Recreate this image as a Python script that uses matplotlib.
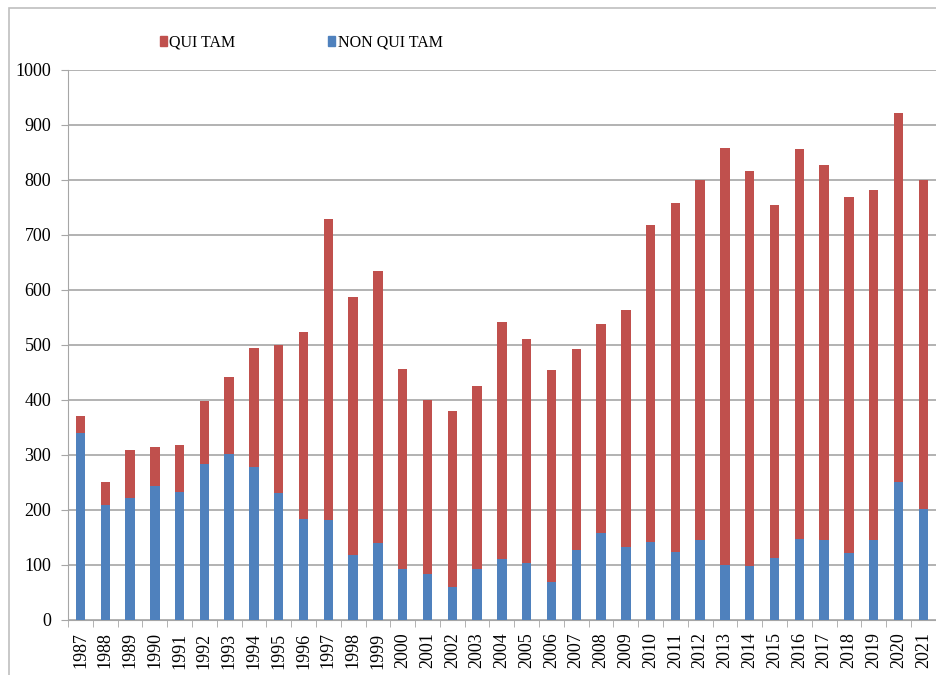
import matplotlib.pyplot as plt
import numpy as np
from matplotlib.patches import Rectangle, Patch

# data
years = list(range(1987, 2022))
totals = [370, 251, 309, 315, 318, 398, 441, 495, 500, 524, 729, 587, 634, 456,
          399, 379, 426, 542, 510, 454, 493, 538, 564, 718, 758, 800, 858, 817,
          754, 857, 827, 769, 782, 922, 800]
non_qui_tam = [340, 209, 221, 243, 233, 283, 302, 279, 231, 184, 182, 118, 140, 93,
               84, 60, 92, 110, 104, 69, 128, 159, 133, 142, 124, 145, 100, 98,
               113, 148, 145, 122, 145, 250, 202]
qui_tam = [t - n for t, n in zip(totals, non_qui_tam)]

blue = '#4F81BD'
red = '#C0504D'

plt.rcParams['font.family'] = ['Liberation Serif', 'DejaVu Serif']

fig = plt.figure(figsize=(9.37, 6.75), dpi=100)
ax = fig.add_axes([0.0726, 0.0815, 0.926, 0.815])

x = np.arange(len(years))
ax.bar(x, non_qui_tam, width=0.38, color=blue, zorder=3)
ax.bar(x, qui_tam, width=0.38, bottom=non_qui_tam, color=red, zorder=3)

ax.set_xlim(-0.5, len(years) - 0.5)
ax.set_ylim(0, 1000)
ax.set_yticks(range(0, 1001, 100))
ax.tick_params(axis='y', labelsize=13, length=5, color='#A6A6A6', pad=7)
ax.set_xticks(x)
ax.set_xticklabels([str(y) for y in years], rotation=90, fontsize=13)
ax.tick_params(axis='x', which='major', length=0, pad=9)
ax.set_xticks(np.arange(-0.5, len(years), 1), minor=True)
ax.tick_params(axis='x', which='minor', length=5, color='#A6A6A6')

ax.grid(True, axis='y', color='#A6A6A6', linewidth=1.2, zorder=0)
for spine in ['top', 'right']:
    ax.spines[spine].set_visible(False)
ax.spines['left'].set_color('#A6A6A6')
ax.spines['bottom'].set_color('#A6A6A6')

# legend on top
handles = [Patch(color=red, label='QUI TAM'), Patch(color=blue, label='NON QUI TAM')]
fig.legend(handles=handles, loc='center left', bbox_to_anchor=(0.155, 0.937),
           ncol=2, frameon=False, fontsize=11.5, handlelength=0.45, handleheight=0.6,
           handletextpad=0.15, columnspacing=5.8)

# outer frame
fig.patches.append(Rectangle((0.0096, -0.01), 1.0, 0.998, transform=fig.transFigure,
                             fill=False, edgecolor='#BFBFBF', linewidth=1.2))

plt.savefig('out.png', dpi=100)
plt.close()
